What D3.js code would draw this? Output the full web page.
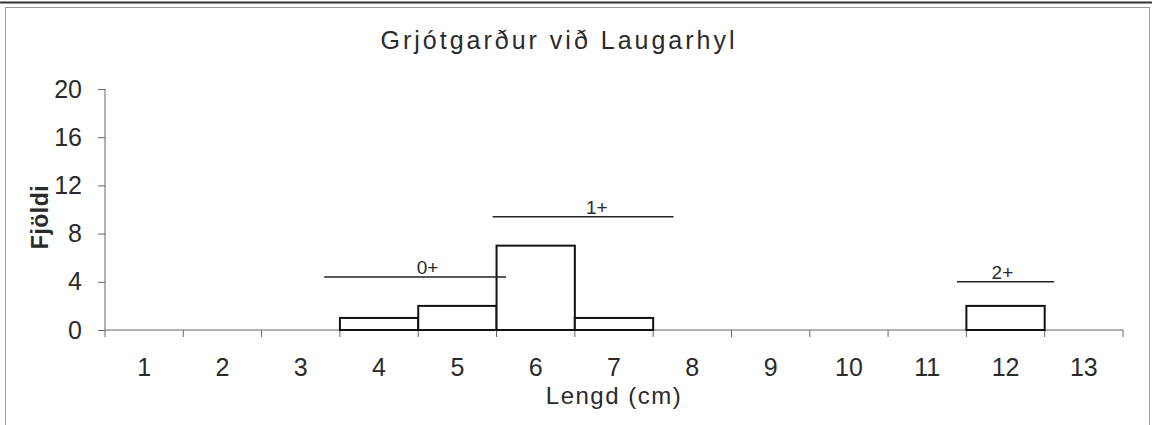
<!DOCTYPE html>
<html>
<head>
<meta charset="utf-8">
<script src="https://cdn.jsdelivr.net/npm/d3@7"></script>
<style>
  body { margin: 0; background: #fff; }
  svg text { font-family: "Liberation Sans", Arial, sans-serif; fill: #2a2a2a; }
</style>
</head>
<body>
<svg id="chart" width="1155" height="425"></svg>
<script>
// lengths (cm) and number of fish
const lengths = [1, 2, 3, 4, 5, 6, 7, 8, 9, 10, 11, 12, 13];
const counts = [0, 0, 0, 1, 2, 7, 1, 0, 0, 0, 0, 2, 0];
const yTicks = [0, 4, 8, 12, 16, 20];

// age group lines drawn above the bars
const ageLabels = ["0+", "1+", "2+"];
const ageStart = [3.3, 5.45, 11.38];
const ageEnd = [5.62, 7.76, 12.62];
const ageLevel = [4.4, 9.4, 4.0];
const ageTextX = [4.62, 6.78, 11.96];

const svg = d3.select('#chart');
const plotLeft = 105, plotRight = 1123, plotTop = 89, plotBottom = 330;

const x = d3.scaleBand().domain(lengths).range([plotLeft, plotRight]).padding(0);
const xLin = d3.scaleLinear().domain([0.5, 13.5]).range([plotLeft, plotRight]);
const y = d3.scaleLinear().domain([0, 20]).range([plotBottom, plotTop]);

// page rule + frame
svg.append("line")
    .attr("x1", 0).attr("x2", 1152).attr("y1", 2.5).attr("y2", 2.5)
    .attr("stroke", "#333").attr("stroke-width", 2);
svg.append("rect")
    .attr("x", 5.5).attr("y", 7.5).attr("width", 1144).attr("height", 430)
    .attr("fill", "none").attr("stroke", "#999").attr("stroke-width", 1);

svg.append("text")
    .attr("x", 559).attr("y", 49)
    .attr("text-anchor", "middle")
    .style("font-size", "25px")
    .style("letter-spacing", "3px")
    .text("Grjótgarður við Laugarhyl");

// y axis
const yAxis = svg.append("g")
    .attr("transform", `translate(${plotLeft},0)`)
    .call(d3.axisLeft(y).tickValues(yTicks).tickSize(7).tickPadding(16));
yAxis.select(".domain").attr("stroke", "#666").attr("d", `M0,${plotTop}V${plotBottom}`);
yAxis.selectAll(".tick line").attr("stroke", "#666");
yAxis.selectAll("text").style("font-size", "25px").attr("font-family", null);

// x axis: ticks at category boundaries
const xAxis = svg.append("g")
    .attr("transform", `translate(0,${plotBottom})`)
    .call(d3.axisBottom(x).tickSize(0).tickPadding(28));
xAxis.select(".domain").attr("stroke", "#666").attr("d", `M${plotLeft},0H${plotRight}`);
xAxis.selectAll("text").style("font-size", "25px").attr("font-family", null);
svg.append("g").selectAll("line")
    .data(d3.range(0.5, 14, 1))
    .join("line")
    .attr("x1", d => xLin(d)).attr("x2", d => xLin(d))
    .attr("y1", plotBottom).attr("y2", plotBottom + 7)
    .attr("stroke", "#666");

// bars
svg.append("g").selectAll("rect")
    .data(lengths.map((l, i) => ({ l: l, c: counts[i] })).filter(d => d.c > 0))
    .join("rect")
    .attr("x", d => x(d.l))
    .attr("y", d => y(d.c))
    .attr("width", x.bandwidth())
    .attr("height", d => y(0) - y(d.c))
    .attr("fill", "#fff")
    .attr("stroke", "#111")
    .attr("stroke-width", 2);

// age group lines
ageLabels.forEach(function(lab, i) {
    svg.append("line")
        .attr("x1", xLin(ageStart[i])).attr("x2", xLin(ageEnd[i]))
        .attr("y1", y(ageLevel[i])).attr("y2", y(ageLevel[i]))
        .attr("stroke", "#222").attr("stroke-width", 1.6);
    svg.append("text")
        .attr("x", xLin(ageTextX[i])).attr("y", y(ageLevel[i]) - 3)
        .attr("text-anchor", "middle")
        .style("font-size", "19px")
        .text(lab);
});

// axis titles
svg.append("text")
    .attr("transform", `translate(48,217) rotate(-90)`)
    .attr("text-anchor", "middle")
    .style("font-size", "23px").style("font-weight", "bold")
    .style("letter-spacing", "0.5px")
    .text("Fjöldi");
svg.append("text")
    .attr("x", (plotLeft + plotRight) / 2).attr("y", 404)
    .attr("text-anchor", "middle")
    .style("font-size", "24px").style("letter-spacing", "1.5px")
    .text("Lengd (cm)");
</script>
</body>
</html>
